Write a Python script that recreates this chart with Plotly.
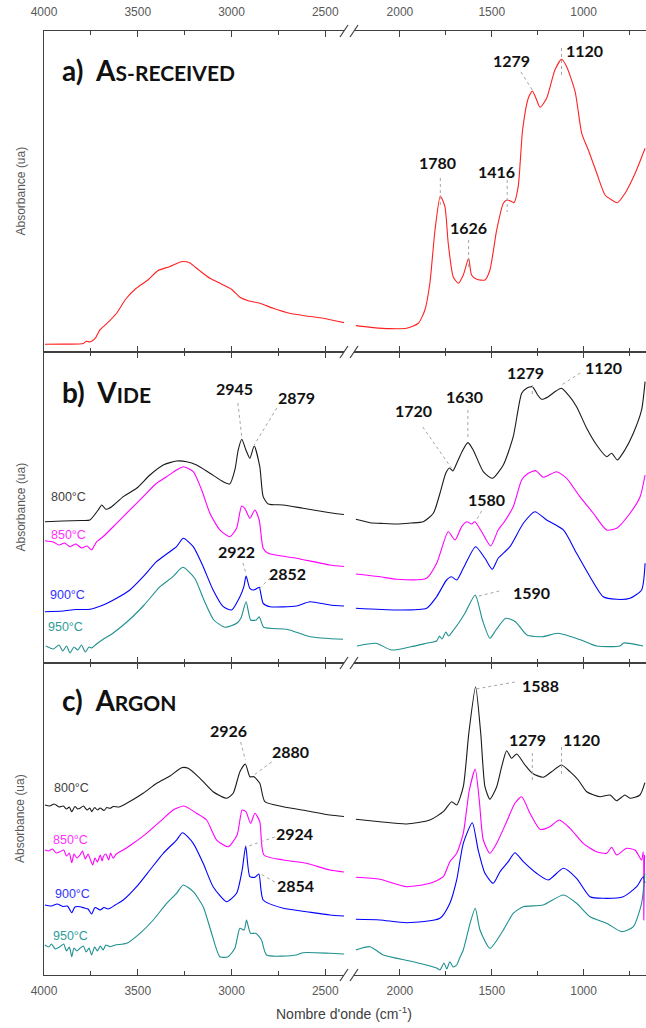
import plotly.graph_objects as go

# ---------------------------------------------------------------------------
# FTIR spectra (absorbance in arbitrary units, offset per temperature)
# ---------------------------------------------------------------------------

# a) as-received
WN_A = [3995, 3900, 3810, 3790, 3773, 3755, 3740, 3725, 3702, 3667, 3613, 3565, 3508, 3446,
        3393, 3331, 3268, 3224, 3170, 3115, 3054, 3000, 2955, 2911, 2849, 2778, 2690, 2600,
        2511, 2400,
        2240, 2145, 2054, 1964, 1900, 1864, 1837, 1809, 1780, 1755, 1737, 1710, 1682, 1655,
        1626, 1610, 1582, 1537, 1510, 1473, 1437, 1416, 1392, 1379, 1356, 1332, 1301, 1279,
        1262, 1237, 1201, 1156, 1120, 1092, 1046, 1010, 974, 928, 883, 846, 816, 774, 719, 665]
ABS_A = [7.7, 7.8, 8, 8.5, 10.7, 10, 11.5, 14, 22, 28, 38.7, 52.7, 63.7, 72,
         81.3, 85.3, 90.3, 89.3, 81.3, 73.7, 68, 62.7, 54.7, 51.3, 48.7, 43.7, 38.7, 36,
         33.7, 29.3,
         26.3, 24.3, 23.3, 23.7, 28.7, 42, 68.7, 122, 156, 145.3, 108.7, 75.3, 68.7, 77,
         93.7, 77, 72.7, 72, 82, 122, 148.7, 152, 150.5, 149.3, 165.3, 222, 253.7, 261,
         255, 244.7, 253.7, 282, 292.7, 285.3, 260.3, 218.7, 202, 178.7, 157, 152, 149.3,
         158.7, 178.7, 203.7]

# b) vide
WN_B800 = [3995, 3900, 3800, 3755, 3711, 3692, 3670, 3639, 3577, 3506, 3435, 3364, 3293, 3239,
           3186, 3115, 3044, 3009, 2982, 2964, 2945, 2923, 2902, 2879, 2849, 2831, 2804, 2724,
           2618, 2475, 2400,
           2240, 2163, 2090, 2018, 1940, 1873, 1818, 1782, 1750, 1730, 1712, 1690, 1660, 1630,
           1601, 1546, 1497, 1437, 1383, 1337, 1310, 1279, 1250, 1228, 1192, 1150, 1120, 1083,
           1038, 983, 929, 874, 847, 816, 775, 729, 684, 665]
ABS_B800 = [141.3, 142, 142.5, 143, 153, 158, 153.7, 156.3, 166.3, 174.7, 188, 198, 202, 201.3,
            198, 189.7, 181.3, 179, 193, 213, 223.7, 213, 204.7, 217, 196.3, 166.3, 159, 158,
            154.7, 150.3, 148.5,
            143.7, 140.3, 139.5, 139, 140, 141.3, 149.7, 169.7, 190, 195, 192, 200, 212, 220.3,
            213, 191.3, 184.7, 198, 226.3, 269.7, 274.7, 276.3, 268, 263.7, 266.3, 272, 274.7, 268,
            256.3, 234.7, 218, 206.3, 209.7, 203, 213, 229.7, 253, 281.3]

WN_B850 = [3995, 3950, 3920, 3890, 3861, 3830, 3800, 3770, 3746, 3730, 3719, 3700, 3675, 3613,
           3542, 3471, 3400, 3346, 3293, 3257, 3204, 3159, 3115, 3062, 3009, 2973, 2946, 2929,
           2902, 2875, 2852, 2831, 2804, 2653, 2475, 2400,
           2240, 2100, 2018, 1855, 1800, 1737, 1700, 1664, 1637, 1610, 1592, 1555, 1506, 1465,
           1437, 1383, 1337, 1301, 1259, 1219, 1147, 1092, 1020, 947, 874, 820, 747, 692, 665]
ABS_B850 = [122.3, 121, 118, 120, 116.3, 119, 115, 117, 113, 118, 121.3, 124, 128, 139.7,
            153, 166.3, 179.7, 186.3, 193, 196.3, 191.3, 173, 149.7, 133, 126.3, 134.7, 157, 154.7,
            144.7, 153, 143, 114.7, 109.7, 104.7, 98, 96.5,
            89, 86, 83.7, 84.7, 99.7, 131.3, 123, 136.3, 141.3, 139, 141.3, 131.3, 117, 133,
            139.7, 156.3, 183, 189.7, 192.3, 185.7, 191.3, 184.7, 166.3, 149.7, 133, 134.7, 149.7,
            166.3, 188]

WN_B900 = [3995, 3900, 3830, 3755, 3684, 3613, 3542, 3471, 3400, 3346, 3293, 3257, 3204, 3151,
           3098, 3044, 2999, 2955, 2934, 2922, 2902, 2881, 2863, 2852, 2831, 2795, 2653, 2582,
           2475, 2400,
           2240, 2018, 1855, 1800, 1746, 1719, 1691, 1655, 1588, 1537, 1497, 1465, 1401, 1328,
           1265, 1201, 1110, 1038, 965, 893, 820, 747, 684, 665]
ABS_B900 = [51.3, 52, 53.5, 53.7, 58, 64.7, 73, 86.3, 101.3, 109, 116.3, 124.7, 116.3, 96.3,
            73, 56.3, 53, 66.3, 76.3, 87, 74.7, 73, 74.7, 75.7, 59.7, 56.3, 57, 61.3,
            58, 57,
            54.7, 53, 54.7, 66.3, 83, 86.3, 83, 94.7, 116.3, 104.7, 93.7, 104.7, 116.3, 139.7,
            151.3, 143, 133, 109.7, 86.3, 66.3, 63.7, 64.7, 73, 99.7]

WN_B950 = [3990, 3950, 3920, 3900, 3880, 3861, 3840, 3820, 3800, 3780, 3760, 3746, 3720, 3690,
           3631, 3546, 3466, 3381, 3312, 3260, 3197, 3147, 3094, 3033, 2972, 2950, 2922, 2898,
           2868, 2852, 2828, 2705, 2580, 2405,
           2234, 2131, 2045, 1940, 1856, 1800, 1785, 1771, 1750, 1735, 1708, 1680, 1646, 1590,
           1551, 1510, 1477, 1424, 1371, 1308, 1224, 1139, 1014, 929, 802, 782, 676]
ABS_B950 = [17, 14, 18, 12, 17, 10, 16, 13, 18, 11, 16, 15, 19, 23,
            30, 43, 58, 76.3, 86.3, 95.7, 85, 63, 43, 35.7, 39.7, 44.7, 61.3, 43,
            43, 46.3, 35.7, 33.7, 26.3, 23.7,
            17, 19.7, 13, 16.3, 19.7, 22, 27, 24, 31, 27, 33, 40, 49.7, 68,
            43, 24.7, 33, 44.7, 41.3, 28, 26.3, 29.7, 23, 17, 17, 20, 17]

# c) argon
WN_C800 = [3995, 3970, 3945, 3920, 3897, 3880, 3865, 3852, 3835, 3820, 3808, 3790, 3770, 3755,
           3746, 3730, 3715, 3700, 3680, 3665, 3648, 3630, 3600, 3559, 3471, 3399, 3328, 3266,
           3231, 3168, 3098, 3026, 2991, 2955, 2926, 2902, 2880, 2849, 2822, 2724, 2600, 2475,
           2400,
           2240, 2109, 1964, 1837, 1764, 1718, 1691, 1655, 1625, 1588, 1560, 1537, 1510, 1473,
           1446, 1419, 1392, 1364, 1319, 1279, 1220, 1174, 1120, 1074, 1029, 983, 911, 856, 820,
           775, 747, 693, 666]
ABS_C800 = [170, 169, 171, 168, 169, 166, 168, 163.3, 168.5, 166, 166.7, 169, 165, 167,
            163.3, 167.5, 165, 167, 164.5, 167.5, 166.7, 168.5, 168, 171.7, 181.7, 191.7, 199, 207.3,
            206.7, 196.7, 183.3, 176.7, 181.7, 203.3, 211, 198.3, 198.3, 191.7, 173.3, 168.3, 164.3,
            160, 158.5,
            155.7, 153.3, 151, 155, 163.3, 173.3, 170, 188.3, 241.7, 288.3, 241.7, 188.3, 175.7,
            188.3, 208.3, 224.3, 216.7, 221, 210, 201.7, 197.7, 203.3, 210, 203.3, 195, 183.3, 178.3,
            180, 174.3, 180, 176.7, 180, 192.3]

WN_C850 = [3995, 3975, 3955, 3935, 3915, 3895, 3880, 3865, 3852, 3840, 3825, 3808, 3795, 3780,
           3765, 3752, 3740, 3728, 3715, 3700, 3690, 3684, 3670, 3655, 3645, 3631, 3615, 3595,
           3560, 3524, 3453, 3382, 3311, 3254, 3186, 3133, 3079, 3018, 2970, 2943, 2923, 2898,
           2875, 2849, 2827, 2724, 2600, 2475, 2400,
           2240, 2109, 1964, 1837, 1764, 1728, 1691, 1655, 1622, 1590, 1568, 1546, 1510, 1473,
           1419, 1374, 1337, 1292, 1237, 1183, 1132, 1074, 1002, 929, 874, 847, 820, 766, 720,
           684, 675, 672, 668]
ABS_C850 = [125, 124, 126, 122, 123.3, 125, 119, 122, 112.3, 121, 117, 120, 124, 116,
            121, 115, 110, 117, 113, 120, 114, 118.3, 121, 115, 122, 116.7, 121, 123.3,
            127, 131.7, 141.7, 153.3, 165, 169, 161.7, 155, 135, 128.3, 140, 165, 163.3, 151.7,
            161.7, 153.3, 120, 115, 111.7, 105, 103,
            97.7, 95.7, 88.3, 91.7, 98.3, 113.3, 121.7, 141.7, 185, 205.7, 175, 135, 121.7, 131.7,
            153.3, 171.7, 178.3, 161.7, 145.7, 148.3, 155, 146.7, 131.7, 123.3, 121.7, 127.7, 120,
            126.7, 125, 115, 123.3, 55, 120]

WN_C900 = [3995, 3960, 3930, 3900, 3875, 3852, 3835, 3808, 3785, 3765, 3746, 3728, 3700, 3680,
           3660, 3648, 3620, 3577, 3506, 3435, 3364, 3293, 3261, 3204, 3151, 3098, 3026, 2973,
           2943, 2924, 2902, 2875, 2854, 2831, 2724, 2600, 2475, 2400,
           2240, 2109, 1964, 1782, 1728, 1691, 1655, 1606, 1574, 1537, 1492, 1455, 1410, 1374,
           1328, 1256, 1192, 1110, 1038, 965, 893, 784, 711, 675, 666]
ABS_C900 = [70, 69, 71, 68.5, 69, 62.3, 68, 68.3, 67, 66, 61, 67.5, 65, 67.5,
            66, 66.7, 70, 75, 88.3, 105, 121.7, 135, 142.3, 131.7, 111.7, 88.3, 73.3, 81.7,
            105, 129, 98.3, 97.7, 101, 75, 66.7, 63.3, 60, 59,
            55.7, 55, 52.3, 56.7, 71.7, 95, 131.7, 152.3, 125, 101.7, 91.7, 103.3, 113.3, 122.3,
            113.3, 101.7, 95, 106.7, 96.7, 78.3, 76.7, 78.3, 88.3, 98.3, 92]

WN_C950 = [3995, 3975, 3960, 3940, 3915, 3895, 3880, 3865, 3852, 3840, 3825, 3808, 3790, 3775,
           3760, 3746, 3730, 3715, 3700, 3685, 3670, 3648, 3620, 3559, 3488, 3417, 3346, 3293,
           3257, 3204, 3151, 3106, 3062, 3018, 2982, 2955, 2932, 2920, 2898, 2870, 2840, 2813,
           2653, 2618, 2475, 2400,
           2240, 2163, 2091, 1927, 1800, 1782, 1760, 1745, 1728, 1710, 1691, 1675, 1655, 1618,
           1590, 1564, 1510, 1437, 1383, 1328, 1220, 1110, 1038, 965, 874, 792, 729, 684, 666]
ABS_C950 = [30, 28, 31, 26, 28.3, 31, 24, 28, 18.3, 27, 24, 26.7, 29, 23,
            27, 20, 28, 24, 29, 25, 30, 28.3, 30, 31.7, 41.7, 55, 71.7, 81.7,
            90, 83.3, 68.3, 41.7, 18.3, 18.3, 26.7, 46.7, 45, 55, 41.7, 41.7, 35, 20,
            20, 22.3, 21.7, 21,
            25, 28.3, 20, 13.3, 7, 5, 12, 6, 13.3, 8, 10, 17, 25, 51.7,
            66.7, 45, 26.7, 45, 61.7, 68.3, 70, 80, 71.7, 58.3, 51.7, 43.3, 48.3, 71.7, 101.7]

TEMPS = ["800°C", "850°C", "900°C", "950°C"]
X_TICKS_LEFT = [4000, 3500, 3000, 2500]
X_TICKS_RIGHT = [2000, 1500, 1000]

# peak annotations: (row, wavenumber text, label x, label y, leader start, leader end)
PEAKS = [
    (0, 1780, 1793, 189, (1780, 174), (1780, 147)),
    (0, 1626, 1624, 124, (1626, 112), (1626, 84)),
    (0, 1416, 1472, 180, (1416, 172), (1416, 140)),
    (0, 1279, 1390, 292, (1341, 280), (1279, 262)),
    (0, 1120, 996, 302, (1120, 304), (1120, 274)),
    (1, 2945, 2982, 274, (2966, 260), (2945, 226)),
    (1, 2879, 2651, 265, (2758, 255), (2879, 218)),
    (1, 2922, 2971, 111, (2939, 100), (2922, 89)),
    (1, 2852, 2699, 89, (2795, 85), (2852, 74)),
    (1, 1720, 1924, 252, (1876, 236), (1720, 195)),
    (1, 1630, 1646, 266, (1630, 253), (1630, 223)),
    (1, 1279, 1314, 290, (1279, 278), (1279, 268)),
    (1, 1120, 894, 295, (1018, 290), (1120, 278)),
    (1, 1580, 1526, 163, (1555, 152), (1580, 144)),
    (1, 1590, 1283, 71, (1459, 72), (1590, 66)),
    (2, 2926, 3014, 245, (2951, 233), (2926, 215)),
    (2, 2880, 2683, 224, (2786, 213), (2880, 200)),
    (2, 2924, 2662, 142, (2769, 138), (2924, 128)),
    (2, 2854, 2657, 89, (2769, 93), (2854, 102)),
    (2, 1588, 1232, 290, (1374, 293), (1588, 286)),
    (2, 1279, 1308, 236, (1279, 222), (1279, 192)),
    (2, 1120, 1014, 236, (1120, 228), (1120, 198)),
]

# temperature tags: (row, wavenumber, ordinate) for 800/850/900/950 °C
TEMP_POS = [
    [(3867, 166), (3872, 128), (3874, 68), (3888, 36)],
    [(3851, 187), (3859, 135), (3848, 81), (3859, 39)],
]

# ---------------------------------------------------------------------------
# Layout geometry
# ---------------------------------------------------------------------------
W, H = 646, 1028
ML, MR, MT, MB = 44, 0, 31, 53
PW, PH = W - ML - MR, H - MT - MB
LEFT_DOM = [0.0, 0.4983]
RIGHT_DOM = [0.515, 1.0]
ROW_DOM = [[0.66, 1.0], [0.3305, 0.66], [0.0, 0.3305]]
ROW_RANGE = [321, 311, 312]
LEFT_RANGE = [4000, 2400]
RIGHT_RANGE = [2250, 660]
BREAK_WN = 2320

AXIS_COLOR = "#404040"
TICK_FONT = dict(family="Liberation Sans, Arial", size=12, color="#595959")
LABEL_FONT = dict(family="Lato", size=16, color="#111111")
COLORS = ["#1a1a1a", "#ff00ff", "#0000ff", "#1f8f8f"]
TAG_COLORS = ["#404040", "#ff33ff", "#3333ff", "#2e9b9b"]

AX = [("x", "y", "x2", "y2"), ("x3", "y3", "x4", "y4"), ("x5", "y5", "x6", "y6")]

fig = go.Figure()


def add_spectrum(wn, ab, row, color):
    assert len(wn) == len(ab)
    xl, yl, xr, yr = AX[row]
    left = [(w, a) for w, a in zip(wn, ab) if w > BREAK_WN]
    right = [(w, a) for w, a in zip(wn, ab) if w <= BREAK_WN]
    for seg, xa, ya in ((left, xl, yl), (right, xr, yr)):
        fig.add_trace(go.Scatter(
            x=[p[0] for p in seg], y=[p[1] for p in seg], xaxis=xa, yaxis=ya,
            mode="lines", line=dict(color=color, width=1.1, shape="spline", smoothing=0.6),
            hoverinfo="skip", showlegend=False))


add_spectrum(WN_A, ABS_A, 0, "#ff2222")
for wn, ab, c in zip([WN_B800, WN_B850, WN_B900, WN_B950],
                     [ABS_B800, ABS_B850, ABS_B900, ABS_B950], COLORS):
    add_spectrum(wn, ab, 1, c)
for wn, ab, c in zip([WN_C800, WN_C850, WN_C900, WN_C950],
                     [ABS_C800, ABS_C850, ABS_C900, ABS_C950], COLORS):
    add_spectrum(wn, ab, 2, c)


def axis_name(ref):
    return ref[0] + "axis" + ref[1:]


layout_axes = {}
for row in range(3):
    xl, yl, xr, yr = AX[row]
    for xref, yref, dom, rng, tv in ((xl, yl, LEFT_DOM, LEFT_RANGE, X_TICKS_LEFT),
                                     (xr, yr, RIGHT_DOM, RIGHT_RANGE, X_TICKS_RIGHT)):
        show_lbl = row in (0, 2)
        layout_axes[axis_name(xref)] = dict(
            domain=dom, range=rng, anchor=yref, showgrid=False, zeroline=False,
            showline=True, linecolor=AXIS_COLOR, linewidth=1.3, mirror="ticks",
            ticks="inside", ticklen=6, tickwidth=1, tickcolor=AXIS_COLOR,
            tickmode="array", tickvals=tv, ticktext=[str(v) for v in tv],
            showticklabels=show_lbl, side="top" if row == 0 else "bottom",
            tickfont=TICK_FONT, ticklabelstandoff=9 if row == 0 else 4,
            minor=dict(ticks="inside", ticklen=4, tickwidth=1, tickcolor=AXIS_COLOR,
                       tickmode="array", tickvals=[v - 250 for v in tv] + [tv[0] + 250]),
        )
        layout_axes[axis_name(yref)] = dict(
            domain=ROW_DOM[row], range=[0, ROW_RANGE[row]], anchor=xref,
            showgrid=False, zeroline=False, showticklabels=False, ticks="",
            showline=(yref == yl), linecolor=AXIS_COLOR, linewidth=1.3,
        )

fig.update_layout(**layout_axes)

shapes = []
annotations = []

# axis break marks "//" on every horizontal axis line
for yp in (1.0, ROW_DOM[0][0], ROW_DOM[1][0], 0.0):
    for xc in (LEFT_DOM[1], RIGHT_DOM[0]):
        shapes.append(dict(
            type="line", xref="paper", yref="paper",
            x0=xc - 4 / PW, x1=xc + 4 / PW, y0=yp - 6 / PH, y1=yp + 6 / PH,
            line=dict(color=AXIS_COLOR, width=1.2)))

# peak labels and dotted leaders
for row, val, lx, ly, (sx, sy), (ex, ey) in PEAKS:
    xl, yl, xr, yr = AX[row]
    xa, ya = (xl, yl) if lx > BREAK_WN else (xr, yr)
    sxa = xl if sx > BREAK_WN else xr
    annotations.append(dict(x=lx, y=ly, xref=xa, yref=ya, text="<b>%d</b>" % val,
                            showarrow=False, font=LABEL_FONT))
    shapes.append(dict(type="line", xref=sxa, yref=ya, x0=sx, y0=sy, x1=ex, y1=ey,
                       line=dict(color="#a6a6a6", width=1, dash="dot")))

# temperature tags
for r, row in enumerate((1, 2)):
    xl, yl = AX[row][0], AX[row][1]
    for (tx, ty), t, c in zip(TEMP_POS[r], TEMPS, TAG_COLORS):
        annotations.append(dict(x=tx, y=ty, xref=xl, yref=yl, text=t, showarrow=False,
                                font=dict(family="Liberation Sans, Arial", size=12.5, color=c)))

# panel titles (small caps)
TITLE_FONT = dict(family="Lato", size=28, color="#111111")
titles = [
    ("a)", "A", "S-RECEIVED", 70),
    ("b)", "V", "IDE", 392),
    ("c)", "A", "RGON", 700),
]
for tag, first, rest, ypix in titles:
    annotations.append(dict(
        x=(60 - ML) / PW, y=(H - MB - ypix) / PH, xref="paper", yref="paper",
        xanchor="left", yanchor="middle", showarrow=False, font=TITLE_FONT,
        text="<b>%s\u00a0\u00a0%s<span style='font-size:21px'>%s</span></b>" % (tag, first, rest)))

# y titles
for row, ypix in enumerate((191.5, 507.5, 819)):
    annotations.append(dict(
        x=(20 - ML) / PW, y=(H - MB - ypix) / PH, xref="paper", yref="paper",
        text="Absorbance (ua)", textangle=-90, showarrow=False,
        xanchor="center", yanchor="middle",
        font=dict(family="Liberation Sans, Arial", size=12, color="#595959")))

# x title
annotations.append(dict(
    x=(344 - ML) / PW, y=(H - MB - 1013) / PH, xref="paper", yref="paper",
    text="Nombre d'onde (cm<sup>-1</sup>)", showarrow=False,
    xanchor="center", yanchor="middle",
    font=dict(family="Liberation Sans, Arial", size=14, color="#404040")))

fig.update_layout(
    width=W, height=H, margin=dict(l=ML, r=MR, t=MT, b=MB, pad=0),
    paper_bgcolor="white", plot_bgcolor="white", showlegend=False,
    shapes=shapes, annotations=annotations,
)

fig.write_html("out.html")
